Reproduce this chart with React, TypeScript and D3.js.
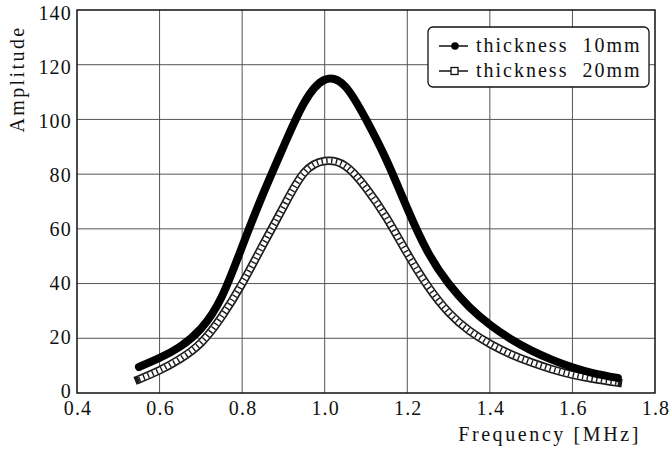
import React from "react";
import * as d3 from "d3";

const freqA = [0.55, 0.6, 0.65, 0.7, 0.75, 0.8, 0.85, 0.9, 0.95, 1.0, 1.05, 1.1, 1.15, 1.2, 1.25, 1.3, 1.35, 1.4, 1.45, 1.5, 1.55, 1.6, 1.65, 1.71];
const ampA = [9.5, 12.8, 17, 23.5, 35, 53.5, 72.5, 90, 106, 114.5, 112, 100, 85, 67.5, 51.5, 40, 31.5, 25, 19.8, 15.6, 12.2, 9.4, 7.3, 5.5];

const freqB = [0.55, 0.6, 0.65, 0.7, 0.75, 0.8, 0.85, 0.9, 0.95, 1.0, 1.05, 1.1, 1.15, 1.2, 1.25, 1.3, 1.35, 1.4, 1.45, 1.5, 1.55, 1.6, 1.65, 1.71];
const ampB = [5, 8.3, 12.5, 18.3, 27.8, 40, 54, 68, 80.5, 84.8, 83, 75, 64, 51, 39, 29.5, 22.8, 18, 14.2, 11.2, 8.7, 6.7, 5.2, 3.8];

const xTicks = [0.4, 0.6, 0.8, 1.0, 1.2, 1.4, 1.6, 1.8];
const yTicks = [0, 20, 40, 60, 80, 100, 120, 140];
const seriesNames = ["thickness  10mm", "thickness  20mm"];

const W = 669;
const H = 451;
const M = { left: 77, right: 655, top: 10, bottom: 393 };
const FONT = '"Liberation Serif", "Times New Roman", "DejaVu Serif"';

export default function App() {
  const x = d3.scaleLinear().domain([0.4, 1.8]).range([M.left, M.right]);
  const y = d3.scaleLinear().domain([0, 140]).range([M.bottom, M.top]);
  const labelShift = d3.scaleLinear().domain([0, 140]).range([4.5, 10]);
  const line = d3
    .line<[number, number]>()
    .x((d) => x(d[0]))
    .y((d) => y(d[1]))
    .curve(d3.curveNatural);
  const pathA = line(freqA.map((f, i) => [f, ampA[i]]) as [number, number][]) || "";
  const pathB = line(freqB.map((f, i) => [f, ampB[i]]) as [number, number][]) || "";
  const txt = { fontFamily: FONT, fill: "#111" } as React.CSSProperties;

  return (
    <svg width={W} height={H} style={{ position: "fixed", left: 0, top: 0, background: "#fff" }}>
      <rect x={0} y={0} width={W} height={H} fill="#fff" />
      {xTicks.slice(1, -1).map((t) => (
        <line key={"gx" + t} x1={x(t)} x2={x(t)} y1={M.top} y2={M.bottom} stroke="#555" strokeWidth={1} />
      ))}
      {yTicks.slice(1, -1).map((t) => (
        <line key={"gy" + t} x1={M.left} x2={M.right} y1={y(t)} y2={y(t)} stroke="#555" strokeWidth={1} />
      ))}
      <rect x={M.left} y={M.top} width={M.right - M.left} height={M.bottom - M.top} fill="none" stroke="#111" strokeWidth={1.5} />

      {xTicks.map((t) => (
        <text key={"tx" + t} x={x(t) + 1} y={415} textAnchor="middle" fontSize={20} letterSpacing={1.2} style={txt}>
          {t.toFixed(1)}
        </text>
      ))}
      {yTicks.map((t) => (
        <text key={"ty" + t} x={72} y={y(t) + labelShift(t)} textAnchor="end" fontSize={20} letterSpacing={1.2} style={txt}>
          {t}
        </text>
      ))}

      <text x={641} y={441} textAnchor="end" fontSize={20} letterSpacing={2.6} style={txt}>
        Frequency [MHz]
      </text>
      <text transform={`translate(24,79) rotate(-90)`} textAnchor="middle" fontSize={20} letterSpacing={2.4} style={txt}>
        Amplitude
      </text>

      <path d={pathB} fill="none" stroke="#1a1a1a" strokeWidth={8.5} strokeLinecap="square" strokeLinejoin="round" />
      <path d={pathB} fill="none" stroke="#fff" strokeWidth={5.2} strokeLinejoin="round" />
      <path d={pathB} fill="none" stroke="#1a1a1a" strokeWidth={5.2} strokeDasharray="1.4 3.4" />

      <path d={pathA} fill="none" stroke="#000" strokeWidth={8} strokeLinecap="round" strokeLinejoin="round" />

      <rect x={428} y={27} width={221} height={60} rx={5} ry={5} fill="#fff" stroke="#111" strokeWidth={1.3} />
      <line x1={439} x2={468} y1={46} y2={46} stroke="#111" strokeWidth={1.5} />
      <circle cx={455} cy={46} r={3.8} fill="#000" />
      <text x={476} y={52} fontSize={20} letterSpacing={2} style={{ ...txt, whiteSpace: "pre" }}>
        {seriesNames[0]}
      </text>
      <line x1={439} x2={468} y1={71} y2={71} stroke="#111" strokeWidth={1.5} />
      <rect x={451} y={67.5} width={7} height={7} fill="#fff" stroke="#111" strokeWidth={1.3} />
      <text x={476} y={77} fontSize={20} letterSpacing={2} style={{ ...txt, whiteSpace: "pre" }}>
        {seriesNames[1]}
      </text>
    </svg>
  );
}
